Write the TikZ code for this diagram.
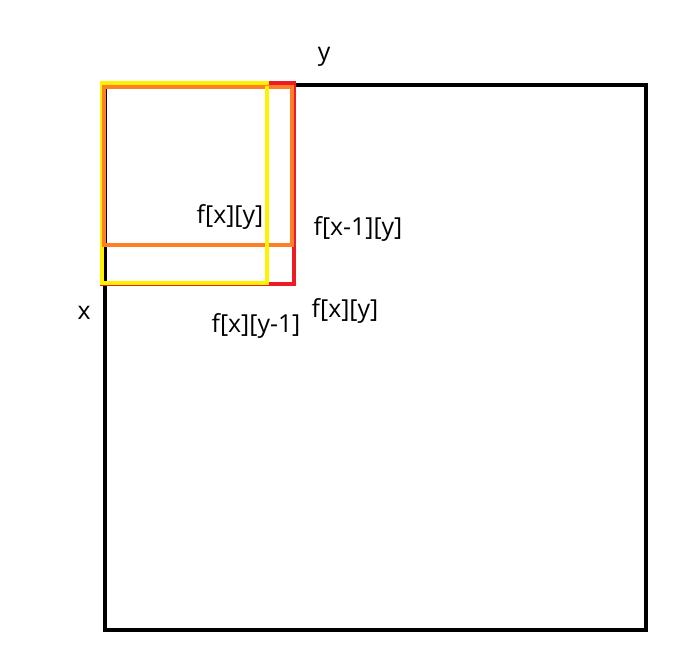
\documentclass[tikz,border=0pt]{standalone}
\usepackage{fontspec}
\setmainfont{Open Sans}
\usepackage{xcolor}
\definecolor{dpred}{RGB}{237, 28, 36}
\definecolor{dporange}{RGB}{255, 127, 39}
\definecolor{dpyellow}{RGB}{255, 242, 0}

\begin{document}
\begin{tikzpicture}[x=0.75pt, y=-0.75pt,
    frame/.style={draw, line width=3pt},
    cell/.style={draw, line width=2.6pt},
    lbl/.style={inner sep=0pt, font=\fontsize{18.6}{22}\selectfont}]
    \useasboundingbox (0, 0) rectangle (678, 644);

    % Whole table
    \draw[frame, black] (105, 85) rectangle (646, 630);

    % Sub-tables
    \draw[cell, dpred] (102, 83) rectangle (294, 284);
    \draw[cell, dpyellow] (102, 83) rectangle (267, 283);
    \draw[cell, dporange, line width=3pt] (104, 86.5) rectangle (292, 245);
    \draw[cell, dpyellow] (267, 86) -- (267, 283);

    % Axes
    \node[lbl] (axisY) at (324, 57) {y};
    \node[lbl] (axisX) at (84, 313) {x};

    % Labels
    \node[lbl] (fIn) at (230, 217) {f[x][y]};
    \node[lbl] (fUp) at (358, 229) {f[x-1][y]};
    \node[lbl] (fOut) at (345, 311) {f[x][y]};
    \node[lbl] (fLeft) at (256, 326) {f[x][y-1]};
\end{tikzpicture}
\end{document}
